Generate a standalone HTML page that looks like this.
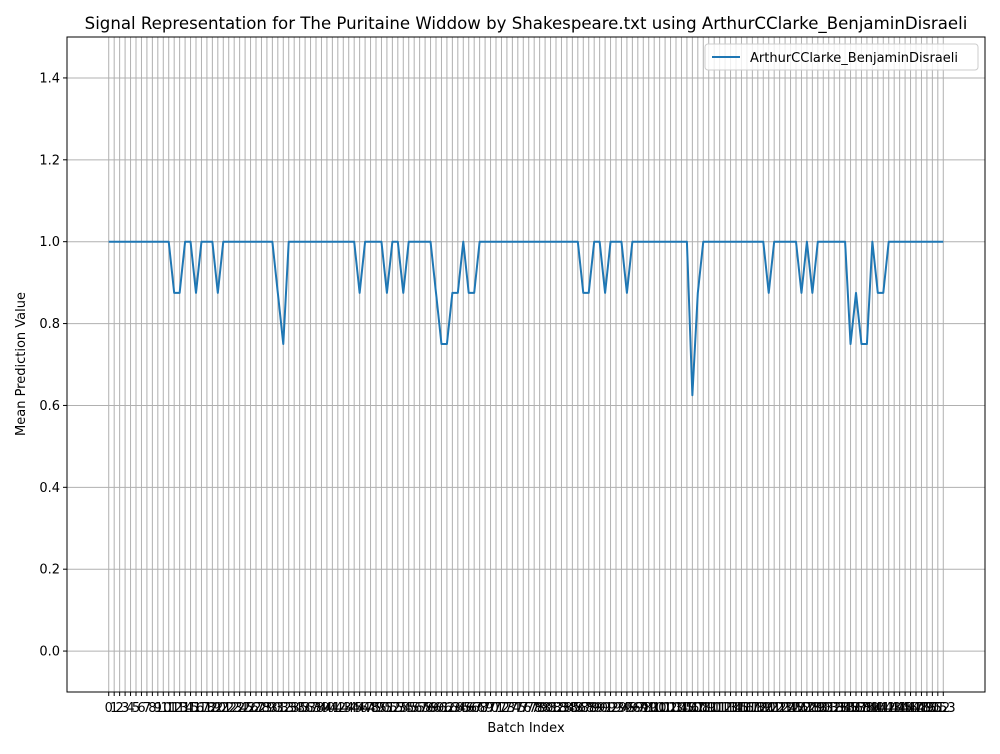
<!DOCTYPE html>
<html><head><meta charset="utf-8"><style>
body{margin:0;background:#fff;font-family:"DejaVu Sans","Liberation Sans",sans-serif;}
svg text{font-family:"DejaVu Sans","Liberation Sans",sans-serif;}
</style></head><body>
<svg id="chart" width="1000" height="750" xmlns="http://www.w3.org/2000/svg">
<rect width="1000" height="750" fill="#fff"/>
<text x="526" y="29" font-size="16.6" text-anchor="middle">Signal Representation for The Puritaine Widdow by Shakespeare.txt using ArthurCClarke_BenjaminDisraeli</text>
<g id="grid"></g>
<g id="ticks"></g>
<polyline id="line" fill="none" stroke="#1f77b4" stroke-width="2" stroke-linejoin="round"/>
<rect x="67" y="37" width="918" height="655" fill="none" stroke="#000" stroke-width="1"/>
<text x="526" y="732" font-size="13" text-anchor="middle">Batch Index</text>
<text transform="translate(25,364) rotate(-90)" font-size="13" text-anchor="middle">Mean Prediction Value</text>
<g>
<rect x="705" y="44" width="273" height="26" rx="3" fill="#fff" fill-opacity="0.8" stroke="#ccc"/>
<line x1="712" y1="57" x2="740" y2="57" stroke="#1f77b4" stroke-width="2"/>
<text x="750" y="62" font-size="13">ArthurCClarke_BenjaminDisraeli</text>
</g>
</svg>
<script>
const dips = {12:0.875,13:0.875,16:0.875,20:0.875,31:0.875,32:0.75,46:0.875,51:0.875,54:0.875,60:0.875,61:0.75,62:0.75,63:0.875,64:0.875,66:0.875,67:0.875,87:0.875,88:0.875,91:0.875,95:0.875,107:0.625,108:0.875,121:0.875,127:0.875,129:0.875,136:0.75,137:0.875,138:0.75,139:0.75,141:0.875,142:0.875};
const values = [];
for (let i = 0; i <= 153; i++) values.push(dips[i] !== undefined ? dips[i] : 1.0);
const yTicks = [0.0, 0.2, 0.4, 0.6, 0.8, 1.0, 1.2, 1.4];
const xmin = -7.65, xmax = 160.65, ymin = -0.1, ymax = 1.5;
const L = 67, R = 985, T = 37, B = 692;
const X = v => L + (v - xmin) / (xmax - xmin) * (R - L);
const Y = v => B - (v - ymin) / (ymax - ymin) * (B - T);
const NS = "http://www.w3.org/2000/svg";
const grid = document.getElementById('grid'), ticks = document.getElementById('ticks');
function mk(tag, attrs, parent){const e=document.createElementNS(NS,tag);for(const k in attrs)e.setAttribute(k,attrs[k]);parent.appendChild(e);return e;}
values.forEach((v,i)=>{
  const x = X(i);
  const g = mk('line',{x1:x,x2:x,y1:T,y2:B,stroke:'#b0b0b0','stroke-width':1},grid);
  
  
  mk('line',{x1:x,x2:x,y1:B,y2:B+4,stroke:'#000'},ticks);
  const t = mk('text',{x:x,y:B+20,'font-size':13,'text-anchor':'middle'},ticks);
  t.textContent = i;
  
  
});
yTicks.forEach(v=>{
  const y = Y(v);
  const g = mk('line',{x1:L,x2:R,y1:y,y2:y,stroke:'#b0b0b0','stroke-width':1},grid);
  
  
  mk('line',{x1:L-4,x2:L,y1:y,y2:y,stroke:'#000'},ticks);
  const t = mk('text',{x:L-7,y:y+4.5,'font-size':13,'text-anchor':'end'},ticks);
  t.textContent = v.toFixed(1);
  
  
});
document.getElementById('line').setAttribute('points', values.map((v,i)=>X(i)+','+Y(v)).join(' '));
</script>
</body></html>
